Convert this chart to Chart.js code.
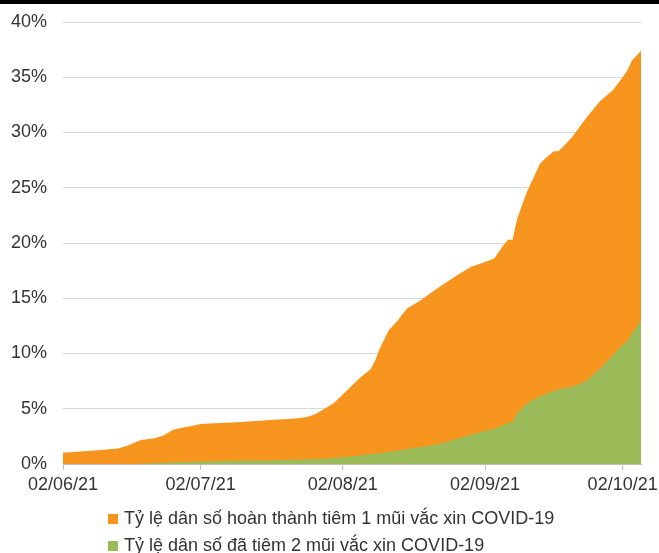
<!DOCTYPE html>
<html>
<head>
<meta charset="utf-8">
<script src="https://cdn.jsdelivr.net/npm/chart.js@4.4.0/dist/chart.umd.min.js"></script>
<style>
  html, body { margin: 0; padding: 0; background: #fff; }
  #wrap { position: relative; width: 659px; height: 553px; overflow: hidden; }
  #bar { position: absolute; left: 0; top: 0; width: 659px; height: 4px; background: #000; }
  canvas { position: absolute; left: 0; top: 0; }
  #legend { position: absolute; left: 108px; top: 505px; font-family: "Liberation Sans", Arial, sans-serif; font-size: 18px; color: #333; }
  .item { height: 27px; line-height: 27px; white-space: nowrap; }
  .sw { display: inline-block; width: 10px; height: 10px; margin-right: 6px; vertical-align: 0px; }
</style>
</head>
<body>
<div id="wrap">
  <canvas id="c" width="659" height="553"></canvas>
  <div id="bar"></div>
  <div id="legend"></div>
</div>
<script>
// Day offsets from 02/06/21
const days = [0,3,6,9,12,14,17,20,22,24,26,28,30,34,38,42,46,50,53,55,57,59,61,63,65,67,68,69,71,73,75,78,80,83,86,89,92,94,96,97,98,99,101,102,104,105,107,108,109,111,114,117,120,122,123,124,126];
// % population with at least 1 dose
const oneDose = [1.02,1.1,1.2,1.28,1.4,1.66,2.17,2.32,2.6,3.1,3.28,3.45,3.62,3.7,3.78,3.9,4.0,4.1,4.22,4.5,5.0,5.49,6.3,7.1,7.9,8.56,9.3,10.4,12.1,13.0,14.08,14.83,15.43,16.3,17.1,17.84,18.29,18.6,19.8,20.3,20.3,22.2,24.5,25.4,27.2,27.6,28.3,28.3,28.7,29.6,31.3,32.8,33.9,35.0,35.6,36.5,37.4];
// % population with 2 doses
const twoDose = [0,0,0,0,0,0,0.02,0.1,0.12,0.15,0.17,0.2,0.22,0.28,0.3,0.32,0.35,0.38,0.4,0.45,0.5,0.55,0.62,0.7,0.8,0.88,0.92,0.96,1.1,1.2,1.35,1.55,1.65,1.9,2.3,2.65,3.0,3.15,3.53,3.7,3.83,4.6,5.4,5.7,6.1,6.3,6.65,6.75,6.85,7.0,7.5,8.6,9.9,10.8,11.1,11.8,13.0];
const tickDays = [0,30,61,92,122];
const tickLabels = ['02/06/21','02/07/21','02/08/21','02/09/21','02/10/21'];
const seriesNames = ['Tỷ lệ dân số hoàn thành tiêm 1 mũi vắc xin COVID-19','Tỷ lệ dân số đã tiêm 2 mũi vắc xin COVID-19'];
const colors = ['#F7941D','#9BBB59'];

const font = { family: '"Liberation Sans", Arial, sans-serif', size: 18 };
const textColor = '#333333';

const chart = new Chart(document.getElementById('c'), {
  type: 'line',
  data: {
    datasets: [
      { label: seriesNames[0], data: days.map((d,i)=>({x:d,y:oneDose[i]})), backgroundColor: colors[0], borderWidth: 0, pointRadius: 0, fill: 'origin', order: 2 },
      { label: seriesNames[1], data: days.map((d,i)=>({x:d,y:twoDose[i]})), backgroundColor: colors[1], borderWidth: 0, pointRadius: 0, fill: 'origin', order: 1 }
    ]
  },
  options: {
    responsive: false,
    animation: false,
    layout: { padding: { top: 22, right: 18, left: 0, bottom: 49 } },
    plugins: { legend: { display: false }, tooltip: { enabled: false } },
    scales: {
      x: {
        type: 'linear', min: 0, max: 126,
        afterBuildTicks: s => { s.ticks = tickDays.map(v => ({ value: v })); },
        afterFit: s => { s.height = 40; s.paddingLeft = 0; s.paddingRight = 0; },
        ticks: { font, color: textColor, padding: 4, maxRotation: 0, autoSkip: false,
                 callback: (v) => tickLabels[tickDays.indexOf(v)] },
        grid: { drawOnChartArea: false, drawTicks: true, tickLength: 6, color: '#BFBFBF' },
        border: { color: '#BFBFBF', width: 1 }
      },
      y: {
        min: 0, max: 40,
        afterFit: s => { s.width = 63; s.paddingTop = 0; s.paddingBottom = 0; },
        ticks: { stepSize: 5, font, color: textColor, padding: 16, callback: v => v + '%' },
        grid: { drawTicks: false, color: '#D9D9D9', lineWidth: 1 },
        border: { display: false }
      }
    }
  }
});

const legend = document.getElementById('legend');
chart.data.datasets.forEach(ds => {
  const row = document.createElement('div');
  row.className = 'item';
  const sw = document.createElement('span');
  sw.className = 'sw';
  sw.style.background = ds.backgroundColor;
  row.appendChild(sw);
  row.appendChild(document.createTextNode(ds.label));
  legend.appendChild(row);
});
</script>
</body>
</html>
